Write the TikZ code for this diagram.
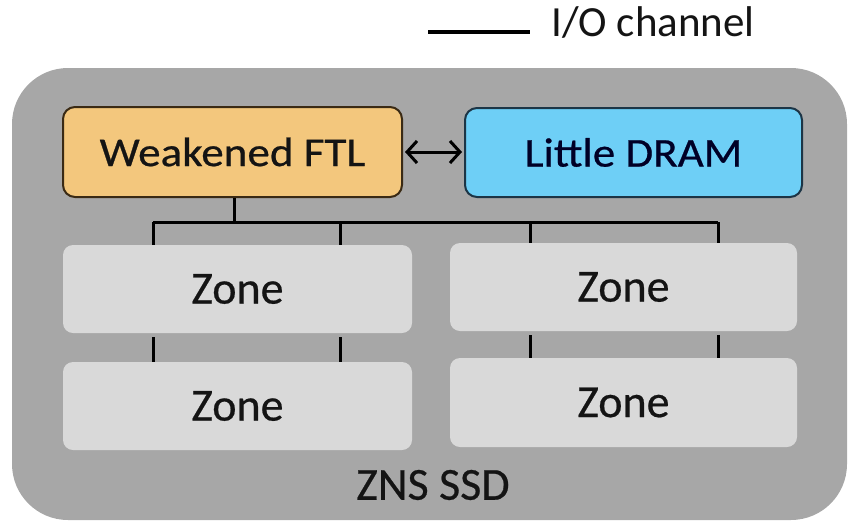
\documentclass[tikz,border=0pt]{standalone}
\usepackage{fontspec}
\setmainfont{Carlito}
\newfontfamily\hdrfont[FakeStretch=1.1,FakeBold=0.6]{Carlito}
\newfontfamily\zonefont[FakeBold=0.5]{Carlito}
\usetikzlibrary{arrows.meta}
\definecolor{ssdgray}{HTML}{A7A7A7}
\definecolor{zonegray}{HTML}{D9D9D9}
\definecolor{ftlfill}{HTML}{F3C77D}
\definecolor{ftlline}{HTML}{3A2A14}
\definecolor{dramfill}{HTML}{6ECFF6}
\definecolor{dramline}{HTML}{1C3546}
\definecolor{txt}{HTML}{141414}
\tikzset{
  hdrbox/.style={draw, line width=2pt, rounded corners=12pt, inner sep=0pt, text=txt,
    font=\hdrfont\fontsize{41}{41}\selectfont},
  zonebox/.style={fill=zonegray, rounded corners=10pt, inner sep=0pt, text=txt,
    font=\zonefont\fontsize{46}{46}\selectfont},
  bus/.style={line width=3pt, draw=black},
}
\begin{document}
\begin{tikzpicture}[x=1pt,y=-1pt]
\useasboundingbox (0,0) rectangle (848,520);
\begin{scope}
\clip (0,0) rectangle (848,520);
\fill[ssdgray, rounded corners=56pt] (12,68) rectangle (847,520);
\end{scope}
% legend
\coordinate (legA) at (428,32);
\coordinate (legB) at (530,32);
\draw[line width=4pt] (legA) -- (legB);
\node[anchor=base west, inner sep=0pt, text=txt, font=\fontsize{43}{43}\selectfont] (legT) at (551,36) {I/O channel};
% header boxes
\node[hdrbox, fill=ftlfill, draw=ftlline, minimum width=339pt, minimum height=90pt] (ftl) at (232.5,152) {Weakened FTL};
\node[hdrbox, fill=dramfill, draw=dramline, minimum width=337pt, minimum height=89pt, text=black!85!blue] (dram) at (633.5,152.5) {Little DRAM};
\draw[line width=3pt, {Straight Barb[length=10pt,width=22pt]}-{Straight Barb[length=10pt,width=22pt]}] (ftl.east) ++(2,0) -- ([xshift=-2pt]dram.west |- ftl.east);
% zones
\node[zonebox, minimum width=349pt, minimum height=88pt] (z1) at (237.5,289) {Zone};
\node[zonebox, minimum width=347pt, minimum height=88pt] (z2) at (623.5,287) {Zone};
\node[zonebox, minimum width=349pt, minimum height=88pt] (z3) at (237.5,406) {Zone};
\node[zonebox, minimum width=347pt, minimum height=89pt] (z4) at (623.5,402.5) {Zone};
% bus
\coordinate (bus) at (234,222);
\coordinate (t1) at (153,222);
\coordinate (t2) at (340,222);
\coordinate (t3) at (530,222);
\coordinate (t4) at (718,222);
\draw[bus] (ftl.south -| bus) -- (bus);
\draw[bus] (t1) -- (t4);
\draw[bus] (t1) -- (t1 |- z1.north);
\draw[bus] (t2) -- (t2 |- z1.north);
\draw[bus] (t3) -- (t3 |- z2.north);
\draw[bus] (t4) -- (t4 |- z2.north);
\draw[bus] (z1.south -| t1) ++(0,4) -- (t1 |- z3.north);
\draw[bus] (z1.south -| t2) ++(0,4) -- (t2 |- z3.north);
\draw[bus] (z2.south -| t3) ++(0,4) -- (t3 |- z4.north);
\draw[bus] (z2.south -| t4) ++(0,4) -- (t4 |- z4.north);
% label
\node[inner sep=0pt, text=txt, font=\zonefont\fontsize{46}{46}\selectfont] (ssd) at (433,485) {ZNS SSD};
\end{tikzpicture}
\end{document}
